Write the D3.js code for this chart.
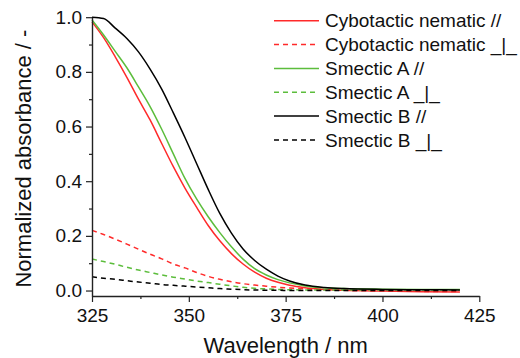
<!DOCTYPE html>
<html>
<head>
<meta charset="utf-8">
<script src="https://cdn.jsdelivr.net/npm/d3@7/dist/d3.min.js"></script>
<style>
  html, body { margin: 0; padding: 0; background: #fff; }
  svg { display: block; font-family: "Liberation Sans", Arial, sans-serif; }
</style>
</head>
<body>
<div id="chart"></div>
<script>
// wavelength grid (nm) shared by all six spectra
const wavelengths = [325, 328, 331, 334, 337, 340, 343, 346, 349, 352, 355, 358,
  361, 364, 367, 370, 373, 376, 380, 385, 390, 400, 410, 420];

// normalized absorbance
const cybParallel = [0.983, 0.925, 0.855, 0.78, 0.70, 0.624, 0.538, 0.453, 0.375, 0.305, 0.238, 0.182,
  0.135, 0.097, 0.067, 0.045, 0.030, 0.019, 0.010, 0.004, 0.001, -0.002, -0.004, -0.005];
const cybPerp = [0.22, 0.205, 0.188, 0.17, 0.151, 0.133, 0.116, 0.097, 0.083, 0.066, 0.052, 0.041,
  0.032, 0.025, 0.020, 0.016, 0.012, 0.009, 0.006, 0.003, 0.001, -0.001, -0.003, -0.004];
const smAParallel = [0.99, 0.935, 0.875, 0.815, 0.745, 0.673, 0.59, 0.50, 0.41, 0.335, 0.27, 0.212,
  0.16, 0.115, 0.08, 0.057, 0.040, 0.028, 0.017, 0.010, 0.007, 0.005, 0.004, 0.004];
const smAPerp = [0.115, 0.106, 0.096, 0.085, 0.075, 0.066, 0.057, 0.049, 0.042, 0.035, 0.029, 0.023,
  0.017, 0.012, 0.008, 0.006, 0.004, 0.003, 0.002, 0.002, 0.002, 0.002, 0.002, 0.003];
const smBParallel = [1.0, 0.995, 0.96, 0.922, 0.873, 0.81, 0.737, 0.65, 0.56, 0.465, 0.37, 0.282,
  0.21, 0.152, 0.11, 0.078, 0.053, 0.035, 0.020, 0.011, 0.007, 0.004, 0.003, 0.002];
const smBPerp = [0.05, 0.045, 0.041, 0.036, 0.031, 0.027, 0.022, 0.019, 0.016, 0.013, 0.010, 0.007,
  0.005, 0.003, 0.002, 0.001, 0.001, 0.0, 0.0, 0.0, 0.0, 0.0, 0.0, 0.0];

const seriesNames = ['Cybotactic nematic //', 'Cybotactic nematic _|_', 'Smectic A //',
  'Smectic A _|_', 'Smectic B //', 'Smectic B _|_'];
const seriesValues = [cybParallel, cybPerp, smAParallel, smAPerp, smBParallel, smBPerp];
const seriesColors = ['#ff2a2a', '#ff2a2a', '#5cbd3c', '#5cbd3c', '#000000', '#000000'];
const seriesDashed = [false, true, false, true, false, true];

const xTicks = [325, 350, 375, 400, 425];
const xMinorTicks = [337.5, 362.5, 387.5, 412.5];
const yTicks = [0.0, 0.2, 0.4, 0.6, 0.8, 1.0];
const yMinorTicks = [0.1, 0.3, 0.5, 0.7, 0.9];

const W = 520, H = 358;
const svg = d3.select('#chart').append('svg').attr('width', W).attr('height', H);

const x = d3.scaleLinear().domain([325, 425]).range([92, 479.3]);
const y = d3.scaleLinear().domain([-0.02, 1.0]).range([296, 17.2]);

const axisColor = '#222';

// curves
const line = d3.line()
  .x((d) => x(d[0]))
  .y((d) => y(d[1]))
  .curve(d3.curveMonotoneX);

seriesValues.forEach((vals, i) => {
  svg.append('path')
    .datum(wavelengths.map((w, k) => [w, vals[k]]))
    .attr('fill', 'none')
    .attr('stroke', seriesColors[i])
    .attr('stroke-width', 1.5)
    .attr('stroke-dasharray', seriesDashed[i] ? '5,4' : null)
    .attr('d', line);
});

// axes
function styleAxis(g) {
  g.select('.domain').attr('stroke', axisColor).attr('stroke-width', 1.4);
  g.selectAll('.tick line').attr('stroke', axisColor).attr('stroke-width', 1.2);
  g.selectAll('.tick text').attr('fill', '#111').style('font-size', '19px')
    .style('font-family', '"Liberation Sans", Arial, sans-serif');
}

svg.append('g')
  .attr('transform', 'translate(0,296)')
  .call(d3.axisBottom(x).tickValues(xMinorTicks).tickFormat('').tickSize(3).tickSizeOuter(0))
  .call((g) => g.select('.domain').remove())
  .call((g) => g.selectAll('.tick line').attr('stroke', axisColor).attr('stroke-width', 1.2));

svg.append('g')
  .attr('transform', 'translate(0,296)')
  .call(d3.axisBottom(x).tickValues(xTicks).tickFormat(d3.format('d')).tickSize(6).tickSizeOuter(0).tickPadding(7))
  .call(styleAxis);

svg.append('g')
  .attr('transform', 'translate(92,0)')
  .call(d3.axisLeft(y).tickValues(yMinorTicks).tickFormat('').tickSize(3).tickSizeOuter(0))
  .call((g) => g.select('.domain').remove())
  .call((g) => g.selectAll('.tick line').attr('stroke', axisColor).attr('stroke-width', 1.2));

svg.append('g')
  .attr('transform', 'translate(92,0)')
  .call(d3.axisLeft(y).tickValues(yTicks).tickFormat(d3.format('.1f')).tickSize(6).tickSizeOuter(0).tickPadding(4))
  .call(styleAxis);

// axis titles
svg.append('text')
  .attr('x', (x(325) + x(425)) / 2)
  .attr('y', 353)
  .attr('text-anchor', 'middle')
  .attr('fill', '#111')
  .style('font-size', '22px')
  .text('Wavelength / nm');

svg.append('text')
  .attr('transform', `translate(31,${(y(1.0) + y(-0.02)) / 2 + 2}) rotate(-90)`)
  .attr('text-anchor', 'middle')
  .attr('fill', '#111')
  .style('font-size', '22px')
  .text('Normalized absorbance / -');

// legend
const legend = svg.append('g');
seriesNames.forEach((name, i) => {
  const cy = 20.7 + i * 23.85;
  legend.append('line')
    .attr('x1', 274).attr('x2', 319)
    .attr('y1', cy).attr('y2', cy)
    .attr('stroke', seriesColors[i])
    .attr('stroke-width', 1.5)
    .attr('stroke-dasharray', seriesDashed[i] ? '5,4' : null);
  legend.append('text')
    .attr('x', 325)
    .attr('y', cy)
    .attr('dy', '0.35em')
    .attr('fill', '#111')
    .style('font-size', '19px')
    .text(name);
});
</script>
</body>
</html>
